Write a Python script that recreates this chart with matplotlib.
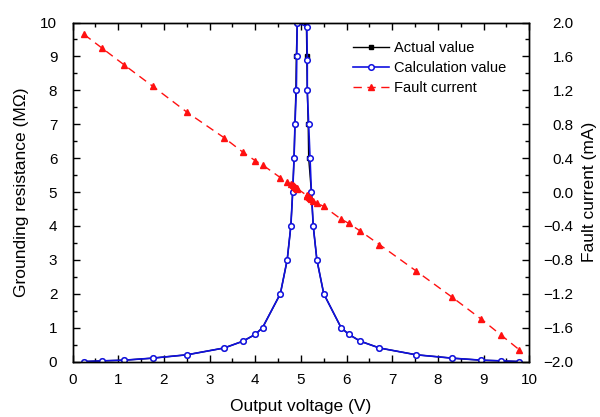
import matplotlib
matplotlib.use("Agg")
import matplotlib.pyplot as plt
from matplotlib.ticker import MultipleLocator, FuncFormatter

plt.rcParams['font.family'] = ['Liberation Sans', 'DejaVu Sans']
plt.rcParams['axes.unicode_minus'] = True

# Data
calc_voltage = [0.25, 0.64, 1.13, 1.75, 2.51, 3.32, 3.73, 4.00, 4.16, 4.55, 4.70, 4.78, 4.82, 4.85, 4.87, 4.90, 4.91, 4.92,
                5.13, 5.14, 5.14, 5.17, 5.20, 5.23, 5.27, 5.35, 5.50, 5.88, 6.05, 6.30, 6.72, 7.52, 8.31, 8.95, 9.39, 9.78]
calc_resistance = [0, 0.02, 0.04, 0.1, 0.2, 0.4, 0.6, 0.8, 1, 2, 3, 4, 5, 6, 7, 8, 9, 10,
                   9.88, 8.9, 8.0, 7.0, 6.0, 5.0, 4.0, 3.0, 2.0, 1.0, 0.8, 0.6, 0.4, 0.2, 0.1, 0.04, 0.02, 0.0]
actual_voltage = [0.25, 0.64, 1.13, 1.75, 2.51, 3.32, 3.73, 4.00, 4.16, 4.55, 4.70, 4.78, 4.82, 4.85, 4.87, 4.89, 4.90, 4.92,
                  5.12, 5.13, 5.14, 5.16, 5.17, 5.23, 5.27, 5.35, 5.50, 5.88, 6.05, 6.30, 6.72, 7.52, 8.31, 8.95, 9.39, 9.78]
actual_resistance = [0, 0.02, 0.04, 0.1, 0.2, 0.4, 0.6, 0.8, 1, 2, 3, 4, 5, 6, 7, 8, 9, 10,
                     10, 9.0, 8.0, 7.0, 6.0, 5.0, 4.0, 3.0, 2.0, 1.0, 0.8, 0.6, 0.4, 0.2, 0.1, 0.04, 0.02, 0.0]
fault_current = [1.86, 1.70, 1.50, 1.25, 0.94, 0.64, 0.47, 0.37, 0.32, 0.17, 0.12, 0.09, 0.08, 0.07, 0.06, 0.05, 0.05, 0.04,
                 -0.04, -0.05, -0.05, -0.06, -0.07, -0.08, -0.10, -0.13, -0.17, -0.32, -0.37, -0.46, -0.62, -0.93, -1.24, -1.50, -1.69, -1.86]

fig = plt.figure(figsize=(6.0, 4.17), dpi=100)
ax = fig.add_axes([0.121, 0.133, 0.761, 0.813])
ax2 = ax.twinx()

l1, = ax.plot(actual_voltage, actual_resistance, color='black', lw=1.0, marker='s',
              markersize=3.2, markerfacecolor='black', markeredgecolor='black', label='Actual value')
l2, = ax.plot(calc_voltage, calc_resistance, color='#1010e0', lw=1.2, marker='o',
              markersize=4.0, markerfacecolor='white', markeredgecolor='#1010e0', markeredgewidth=1.1,
              label='Calculation value')
l3, = ax2.plot(calc_voltage, fault_current, color='#ff1010', lw=1.0, ls=(0, (6, 4)), marker='^',
               markersize=5.0, markerfacecolor='#ff1010', markeredgecolor='#ff1010',
               label='Fault current')

ax.set_xlim(0, 10)
ax.set_ylim(0, 10)
ax2.set_ylim(-2.0, 2.0)

ax.xaxis.set_major_locator(MultipleLocator(1))
ax.xaxis.set_minor_locator(MultipleLocator(0.5))
ax.yaxis.set_major_locator(MultipleLocator(1))
ax.yaxis.set_minor_locator(MultipleLocator(0.5))
ax2.yaxis.set_major_locator(MultipleLocator(0.4))
ax2.yaxis.set_minor_locator(MultipleLocator(0.2))


def fmt_current(v, pos):
    s = '%.1f' % v
    if s == '-0.0':
        s = '0.0'
    return s.replace('-', '\u2212')


ax2.yaxis.set_major_formatter(FuncFormatter(fmt_current))

ax.tick_params(axis='both', which='both', direction='in', top=True, right=False, labelsize=11)
ax.tick_params(axis='x', which='major', pad=8)
ax.tick_params(axis='y', which='major', pad=11)
ax.tick_params(which='major', length=5, width=1)
ax.tick_params(which='minor', length=3, width=1)
ax2.tick_params(axis='y', which='both', direction='in', labelsize=11)
ax2.tick_params(axis='y', which='major', length=5, width=1, pad=32)
ax2.tick_params(which='minor', length=3, width=1)
for lab in ax2.get_yticklabels():
    lab.set_horizontalalignment('right')

for a in (ax, ax2):
    for s in a.spines.values():
        s.set_linewidth(1.0)

ax.set_xlabel('Output voltage (V)', fontsize=12.5, labelpad=9)
ax.set_ylabel('Grounding resistance (M\u03a9)', fontsize=12.5, labelpad=8)
ax2.set_ylabel('Fault current (mA)', fontsize=12.5, labelpad=6)

ax2.legend(handles=[l1, l2, l3], loc='upper left', bbox_to_anchor=(0.588, 0.901),
           bbox_transform=fig.transFigure, frameon=False, fontsize=10.5, numpoints=1,
           handlelength=2.5, handletextpad=0.35, labelspacing=0.39, borderpad=0, borderaxespad=0)

fig.savefig('out.png', dpi=100)
